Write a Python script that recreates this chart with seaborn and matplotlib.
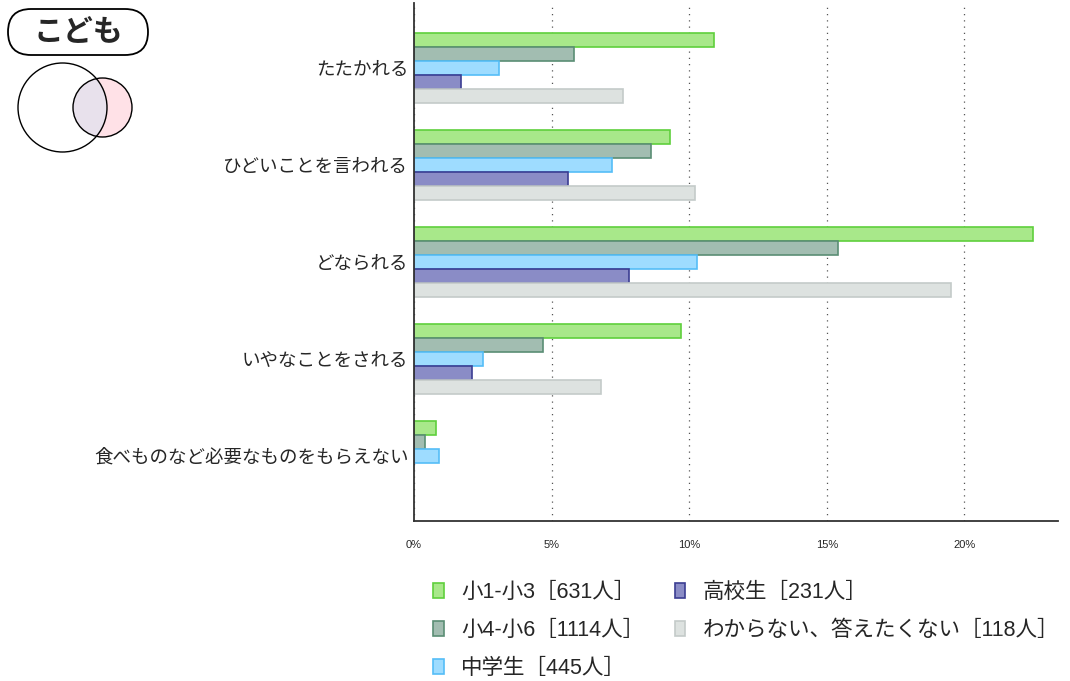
import matplotlib
matplotlib.use("Agg")
import matplotlib.pyplot as plt
from matplotlib.patches import Patch, Circle, FancyBboxPatch
import pandas as pd
import seaborn as sns

# データ（%）
categories = ["たたかれる", "ひどいことを言われる", "どなられる", "いやなことをされる",
              "食べものなど必要なものをもらえない"]
groups = ["小1-小3［631人］", "小4-小6［1114人］", "中学生［445人］",
          "高校生［231人］", "わからない、答えたくない［118人］"]
sho1_3 = [10.9, 9.3, 22.5, 9.7, 0.8]
sho4_6 = [5.8, 8.6, 15.4, 4.7, 0.4]
chugaku = [3.1, 7.2, 10.3, 2.5, 0.9]
koko = [1.7, 5.6, 7.8, 2.1, 0.0]
wakaranai = [7.6, 10.2, 19.5, 6.8, 0.0]
xticks = [0, 5, 10, 15, 20]

fills = ["#a8e88a", "#a2bdb1", "#9edcff", "#8a8cc6", "#dde2e0"]
edges = ["#5fcf3c", "#5a8d74", "#55bdf7", "#3b3d92", "#c4cbc9"]

series = [sho1_3, sho4_6, chugaku, koko, wakaranai]
rows = []
for g, vals in zip(groups, series):
    for c, v in zip(categories, vals):
        rows.append({"カテゴリ": c, "グループ": g, "割合": v})
df = pd.DataFrame(rows)

sns.set_style("white")
plt.rcParams["font.family"] = ["Noto Sans CJK JP", "DejaVu Sans"]

fig = plt.figure(figsize=(10.7, 6.81), dpi=100)
ax = fig.add_axes([414 / 1070, 1 - 521 / 681, (1058 - 414) / 1070, (521 - 3) / 681])

sns.barplot(data=df, y="カテゴリ", x="割合", hue="グループ", order=categories,
            hue_order=groups, palette=fills, orient="h", width=0.72, ax=ax,
            legend=False, saturation=1)
for cont, ec in zip(ax.containers, edges):
    for bar in cont:
        bar.set_edgecolor(ec)
        bar.set_linewidth(1.2)
        if bar.get_width() == 0:
            bar.set_visible(False)

ax.set_xlim(0, 23.4)
ax.set_ylim(4.67, -0.67)
ax.set_xticks(xticks)
ax.set_xticklabels([f"{t}%" for t in xticks], fontsize=8, family="Liberation Sans")
ax.tick_params(axis="x", length=0, pad=14)
ax.tick_params(axis="y", length=0, labelsize=13.3, pad=4)
ax.set_xlabel("")
ax.set_ylabel("")
ax.xaxis.grid(True, linestyle=(0, (1, 4)), color="#555555", linewidth=0.9)
ax.yaxis.grid(False)
ax.set_axisbelow(True)
for s in ["top", "right"]:
    ax.spines[s].set_visible(False)
for s in ["left", "bottom"]:
    ax.spines[s].set_color("#333333")
    ax.spines[s].set_linewidth(1.3)

# 凡例（数字は Arial 風、かなは Noto）
handles = [Patch(facecolor=f, edgecolor=e, linewidth=1.2) for f, e in zip(fills, edges)]
fig.legend(handles, groups, ncol=2, loc="upper left",
           bbox_to_anchor=(414 / 1070, 1 - 563 / 681), frameon=False,
           prop={"family": ["Liberation Sans", "Noto Sans CJK JP"], "size": 15.5},
           handlelength=0.5, handleheight=0.7, handletextpad=0.8,
           columnspacing=1.4, labelspacing=0.78)

# 左上のアイコン
icon = fig.add_axes([0, 1 - 160 / 681, 200 / 1070, 160 / 681])
icon.set_xlim(0, 200)
icon.set_ylim(160, 0)
icon.axis("off")
icon.add_patch(FancyBboxPatch((8, 9), 140, 46, boxstyle="round,pad=0,rounding_size=23",
                              facecolor="white", edgecolor="black", linewidth=1.3))
icon.text(78, 32, "こども", ha="center", va="center", fontsize=21.5, fontweight="bold")
icon.add_patch(Circle((102.5, 107.5), 29.5, facecolor="#ffe1e7", edgecolor="none"))
lens = Circle((102.5, 107.5), 29.5, facecolor="#e8e1ec", edgecolor="none")
icon.add_patch(lens)
lens.set_clip_path(Circle((62.5, 107.5), 44.5, transform=icon.transData))
icon.add_patch(Circle((102.5, 107.5), 29.5, facecolor="none", edgecolor="black", linewidth=1))
icon.add_patch(Circle((62.5, 107.5), 44.5, facecolor="none", edgecolor="black", linewidth=1))

fig.savefig("out.png", dpi=100)
